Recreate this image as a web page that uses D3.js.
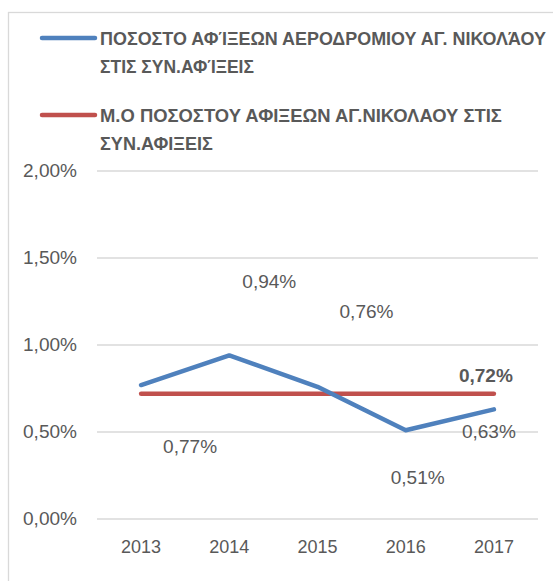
<!DOCTYPE html>
<html>
<head>
<meta charset="utf-8">
<script src="https://cdn.jsdelivr.net/npm/d3@7"></script>
<style>
  html, body { margin: 0; padding: 0; background: #fff; }
  svg { display: block; }
  text { font-family: "Liberation Sans", Arial, sans-serif; fill: #595959; }
</style>
</head>
<body>
<script>
// ---- data ----
const years = ["2013", "2014", "2015", "2016", "2017"];
const airportShare = [0.0077, 0.0094, 0.0076, 0.0051, 0.0063];
const averageShare = [0.0072, 0.0072, 0.0072, 0.0072, 0.0072];
const yTicks = [0, 0.005, 0.01, 0.015, 0.02];
const seriesNames = [
  ["ΠΟΣΟΣΤΟ ΑΦΊΞΕΩΝ ΑΕΡΟΔΡΟΜΙΟΥ ΑΓ. ΝΙΚΟΛΆΟΥ", "ΣΤΙΣ ΣΥΝ.ΑΦΊΞΕΙΣ"],
  ["Μ.Ο ΠΟΣΟΣΤΟΥ ΑΦΙΞΕΩΝ ΑΓ.ΝΙΚΟΛΑΟΥ ΣΤΙΣ", "ΣΥΝ.ΑΦΙΞΕΙΣ"]
];
// label placement (pixel offsets from each point, layout only)
const airportLabelOffsets = [[49, 62], [40, -73], [49, -75], [12, 48], [-5, 23]];
const averageLabelOffset = [-8, -18];

// ---- layout ----
const W = 553, H = 581;
const colors = ["#4F81BD", "#C0504D"];
const fmt = v => (v * 100).toFixed(2).replace(".", ",") + "%";
const numSize = 18, pctWidth = 54;

const svg = d3.select("body").append("svg").attr("width", W).attr("height", H);

svg.append("rect")
  .attr("x", 8.5).attr("y", 12.5).attr("width", 600).attr("height", 600)
  .attr("fill", "#fff").attr("stroke", "#d9d9d9").attr("stroke-width", 1.3);

const x = d3.scaleBand().domain(years).range([97, 538]);
const y = d3.scaleLinear().domain([0, 0.02]).range([519, 171]);
const cx = d => x(d) + x.bandwidth() / 2;

// gridlines
svg.append("g").selectAll("line").data(yTicks).join("line")
  .attr("x1", 97).attr("x2", 538)
  .attr("y1", d => y(d)).attr("y2", d => y(d))
  .attr("stroke", "#d9d9d9").attr("stroke-width", 1.3);

// y axis labels
const yAxis = d3.axisLeft(y).tickValues(yTicks).tickFormat(fmt).tickSize(0).tickPadding(0);
const ya = svg.append("g").attr("transform", "translate(77,0)").call(yAxis);
ya.select(".domain").remove();
ya.selectAll("text").attr("font-size", numSize).attr("fill", "#595959")
  .attr("font-family", "Liberation Sans, Arial, sans-serif")
  .attr("textLength", pctWidth).attr("lengthAdjust", "spacingAndGlyphs");

// x axis labels
const xAxis = d3.axisBottom(x).tickSize(0).tickPadding(0);
const xa = svg.append("g").attr("transform", "translate(0,540)").call(xAxis);
xa.select(".domain").remove();
xa.selectAll("text").attr("font-size", numSize).attr("fill", "#595959")
  .attr("font-family", "Liberation Sans, Arial, sans-serif");

// lines
const line = d3.line().x((d, i) => cx(years[i])).y(d => y(d));
svg.append("path").datum(averageShare).attr("d", line)
  .attr("fill", "none").attr("stroke", colors[1]).attr("stroke-width", 4.5)
  .attr("stroke-linecap", "round").attr("stroke-linejoin", "round");
svg.append("path").datum(airportShare).attr("d", line)
  .attr("fill", "none").attr("stroke", colors[0]).attr("stroke-width", 4.5)
  .attr("stroke-linecap", "round").attr("stroke-linejoin", "round");

// data labels
svg.append("g").selectAll("text").data(airportShare).join("text")
  .attr("x", (d, i) => cx(years[i]) + airportLabelOffsets[i][0])
  .attr("y", (d, i) => y(d) + airportLabelOffsets[i][1])
  .attr("text-anchor", "middle").attr("dominant-baseline", "central")
  .attr("font-size", numSize)
  .attr("textLength", pctWidth).attr("lengthAdjust", "spacingAndGlyphs")
  .text(fmt);

const last = years.length - 1;
svg.append("text")
  .attr("x", cx(years[last]) + averageLabelOffset[0])
  .attr("y", y(averageShare[last]) + averageLabelOffset[1])
  .attr("text-anchor", "middle").attr("dominant-baseline", "central")
  .attr("font-size", numSize).attr("font-weight", "bold")
  .attr("textLength", pctWidth).attr("lengthAdjust", "spacingAndGlyphs")
  .text(fmt(averageShare[last]));

// legend
const legendY = [38, 115];
const lineGap = 28;
const legendWidths = [[446, 154], [402, 113]];
seriesNames.forEach((lines, s) => {
  const g = svg.append("g");
  g.append("line").attr("x1", 42).attr("x2", 95)
    .attr("y1", legendY[s]).attr("y2", legendY[s])
    .attr("stroke", colors[s]).attr("stroke-width", 4.5).attr("stroke-linecap", "round");
  lines.forEach((t, k) => {
    const ty = legendY[s] + k * lineGap;
    const txt = g.append("text").attr("x", 0).attr("y", 0)
      .attr("dominant-baseline", "central")
      .attr("font-size", 19).attr("font-weight", "bold")
      .text(t);
    const natural = txt.node().getComputedTextLength();
    const sx = legendWidths[s][k] / natural;
    txt.attr("transform", `translate(100,${ty}) scale(${sx},1)`);
  });
});
</script>
</body>
</html>
